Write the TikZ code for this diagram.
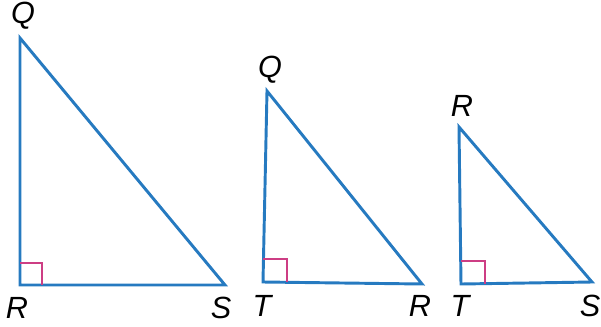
\documentclass[tikz,border=0pt]{standalone}
\usepackage{fontspec}
\setmainfont{Liberation Sans}
\usepackage{tikz}
\definecolor{sideblue}{RGB}{38,122,192}
\definecolor{markpink}{RGB}{205,62,132}

\begin{document}
\begin{tikzpicture}[x=0.75pt,y=-0.75pt,
side/.style={draw=sideblue,line width=2.2pt,line join=miter},
rightmark/.style={draw=markpink,line width=1pt},
lbl/.style={inner sep=0pt,font=\fontsize{23}{23}\selectfont\itshape}]
\useasboundingbox (0,0) rectangle (601,326);
% first triangle
\coordinate (q1) at (20,38);
\coordinate (r1) at (20,285);
\coordinate (s1) at (225,285);
\draw[side] (q1)--(r1)--(s1)--cycle;
\draw[rightmark] ([shift={(0,-22)}]r1) -| ([shift={(22,0)}]r1);
\node[lbl] (lq1) at (23,16) {Q};
\node[lbl] (lr1) at (17,308) {R};
\node[lbl] (ls1) at (221,308) {S};
% second triangle
\coordinate (q2) at (267,91);
\coordinate (t2) at (263,282);
\coordinate (r2) at (422,284);
\draw[side] (q2)--(t2)--(r2)--cycle;
\draw[rightmark] ([shift={(0,-23)}]t2) -| ([shift={(24,0)}]t2);
\node[lbl] (lq2) at (270,70) {Q};
\node[lbl] (lt2) at (262,306) {T};
\node[lbl] (lr2) at (420,306) {R};
% third triangle
\coordinate (r3) at (459,127);
\coordinate (t3) at (461,284);
\coordinate (s3) at (592,282);
\draw[side] (r3)--(t3)--(s3)--cycle;
\draw[rightmark] ([shift={(0,-23)}]t3) -| ([shift={(24,0)}]t3);
\node[lbl] (lr3) at (462,106) {R};
\node[lbl] (lt3) at (460,306) {T};
\node[lbl] (ls3) at (590,306) {S};
\end{tikzpicture}
\end{document}
